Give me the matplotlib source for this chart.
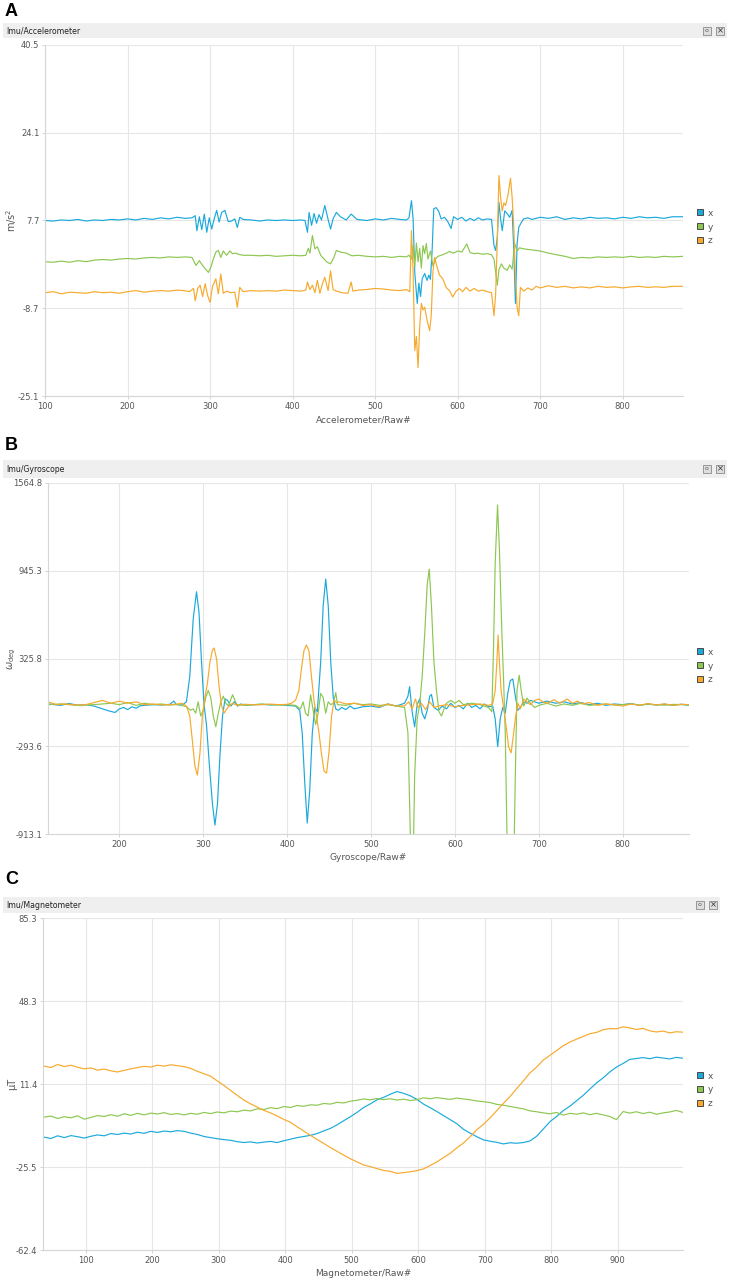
import matplotlib
matplotlib.use("Agg")
import matplotlib.pyplot as plt
from matplotlib.patches import Rectangle, Circle
from matplotlib.lines import Line2D

W, H = 733, 1282

BLUE = '#1ba9dc'
GREEN = '#8cc751'
ORANGE = '#f7a92c'
TXT = '#555555'

# ---------------- Accelerometer ----------------
acc_x_raw = [100, 110, 120, 130, 140, 150, 160, 170, 180, 190, 200, 210, 220, 230, 240, 250, 260, 270, 278,
             282, 284, 287, 290, 293, 296, 299, 302, 305, 308, 311, 314, 318, 322, 326, 330, 333, 336, 340,
             350, 360, 370, 380, 390, 400, 410, 415,
             418, 420, 423, 426, 429, 432, 435, 439, 443, 446, 449, 453, 458, 465, 471, 478, 490, 500, 510,
             520, 530, 538, 541,
             544, 546, 548, 551, 553, 555, 557, 560, 563, 565, 567, 569, 571, 574, 577, 580, 584, 588, 592,
             595, 600, 605, 610, 615, 620, 625, 630, 636, 641, 644, 646, 648, 650, 652, 654, 657, 660, 663,
             666, 668, 670, 672, 674, 677, 680, 685, 690, 700, 710, 720, 730, 740, 750, 760, 770, 780, 790,
             800, 810, 820, 830, 840, 850, 860, 873]
acc_x = [7.7, 7.6, 7.8, 7.7, 7.9, 7.6, 7.8, 7.7, 7.9, 7.8, 8.0, 7.8, 8.1, 7.9, 8.2, 8.0, 8.3, 8.1, 8.2,
         8.6, 5.8, 8.4, 6.0, 8.9, 5.5, 8.2, 6.1, 8.0, 9.6, 7.4, 9.2, 9.6, 7.5, 7.6, 8.0, 6.4, 8.3, 7.9,
         7.8, 7.6, 7.8, 7.7, 7.8, 7.7, 7.8, 7.7,
         5.5, 9.2, 6.8, 9.0, 7.2, 8.8, 7.8, 10.5, 7.9, 6.1, 8.0, 9.2, 8.4, 7.8, 8.9, 7.9, 7.7, 8.0, 7.8,
         8.1, 7.9, 7.8, 8.2,
         11.4, 8.0, -2.0, -7.8, -4.0, -6.5, -3.2, -2.2, -3.5, -2.5, -3.3, 2.0, 9.9, 10.1, 9.4, 8.0, 8.3, 7.5, 6.2,
         8.4, 7.9, 8.3, 7.6, 8.1, 7.7, 8.2, 7.8, 8.0, 7.9, 3.0, 2.1, 4.5, 11.1, 8.0, 5.8, 9.5, 9.0, 8.3,
         9.6, 2.0, -7.8, 3.4, 6.4, 7.3, 8.0, 8.2, 7.9, 8.3, 8.1, 8.4, 7.9, 8.2, 8.0, 8.3, 8.1, 8.2, 8.0,
         8.3, 8.1, 8.4, 8.2, 8.3, 8.1, 8.4, 8.4]

acc_y_raw = [100, 110, 120, 130, 140, 150, 160, 170, 180, 190, 200, 210, 220, 230, 240, 250, 260, 270, 278,
             283, 287, 290, 294, 298, 301, 304, 307, 310, 313, 316, 320, 324, 327, 331, 334, 340,
             350, 360, 370, 380, 390, 400, 410, 416,
             419, 421, 424, 427, 430, 434, 438, 442, 446, 450, 453, 458, 465, 472, 480, 490, 500, 510, 520,
             530, 538, 541,
             544, 546, 548, 550, 552, 554, 556, 558, 560, 562, 564, 567, 570, 573, 576, 580, 585, 590, 595,
             600, 605, 611, 615, 620, 624, 630, 636, 641, 644, 646, 648, 650, 653, 656, 660, 663, 666, 669,
             672, 675, 680, 690, 700, 710, 720, 730, 740, 750, 760, 770, 780, 790, 800, 810, 820, 830, 840,
             850, 860, 873]
acc_y = [0.0, -0.1, 0.1, -0.1, 0.2, 0.0, 0.3, 0.4, 0.3, 0.5, 0.6, 0.5, 0.7, 0.8, 0.7, 0.9, 0.8, 0.9, 0.8,
         -0.7, 0.2, -0.5, -1.3, -2.0, -1.0, 0.5, 1.8, 2.1, 0.8, 2.0, 1.2, 2.0, 1.5, 1.6, 1.4, 1.2,
         1.2, 1.1, 1.2, 1.0, 1.1, 1.2, 1.1, 1.2,
         2.5, 1.6, 4.9, 2.4, 2.8, 1.2, 0.5, -0.1, -0.4, 0.8, 2.1, 1.8, 1.6, 1.1, 1.2, 1.0, 0.9, 1.0, 0.8,
         1.0, 0.9, 1.2,
         0.5, 3.0, -1.0, 3.5, 0.0, 2.5, -1.2, 3.0, 1.5, 3.4, 0.5, 2.0, -0.8, 0.5, 1.0, 1.2, 1.5, 1.9, 1.6,
         2.0, 1.8, 3.3, 1.7, 1.5, 1.6, 1.4, 1.5, 1.3, 0.5, -2.0, -4.4, -1.5, -0.4, -1.2, -1.6, -0.6, -1.4, 3.4,
         2.0, 2.6, 2.4, 2.2, 2.0, 1.6, 1.3, 1.0, 0.6, 0.8, 0.7, 0.9, 0.8, 0.9, 0.8, 1.0, 0.8, 0.9, 0.8,
         1.0, 0.9, 1.0]

acc_z_raw = [100, 110, 120, 130, 140, 150, 160, 170, 180, 190, 200, 210, 220, 230, 240, 250, 260, 268, 275,
             280, 282, 285, 288, 291, 294, 297, 300, 303, 307, 310, 313, 316, 320, 325, 330, 333, 336, 340,
             350, 360, 370, 380, 390, 400, 410, 416,
             418, 421, 424, 427, 430, 433, 436, 439, 443, 446, 449, 453, 460, 467, 471, 473, 480, 490, 500,
             510, 520, 530, 538, 542,
             544, 546, 548, 550, 552, 554, 556, 558, 560, 563, 566, 568, 570, 572, 575, 578, 582, 586, 590,
             594, 598, 602, 606, 610, 615, 620, 625, 630, 636, 641, 644, 646, 648, 650, 652, 654, 656, 658,
             661, 664, 666, 668, 670, 672, 674, 676, 680, 685, 690, 695, 700, 710, 720, 730, 740, 750, 760,
             770, 780, 790, 800, 810, 820, 830, 840, 850, 860, 873]
acc_z = [-5.8, -5.6, -6.0, -5.7, -5.8, -5.9, -5.6, -5.8, -5.7, -5.9, -5.6, -5.4, -5.7, -5.5, -5.4, -5.5, -5.3, -5.4, -5.6,
         -5.0, -7.3, -5.0, -4.4, -6.5, -4.1, -6.3, -7.6, -4.6, -3.2, -6.0, -2.3, -5.9, -5.5, -5.8, -5.7, -8.5, -4.8, -5.6,
         -5.4, -5.5, -5.4, -5.5, -5.3, -5.4, -5.5, -5.3,
         -3.8, -5.2, -4.4, -5.8, -3.5, -5.9, -4.2, -2.9, -5.4, -1.7, -5.2, -5.5, -5.8, -5.9, -3.8, -5.5, -5.3, -5.2, -5.0,
         -5.1, -5.3, -5.4, -5.2, -5.6,
         5.8, -2.0, -16.6, -14.0, -19.8, -12.0, -7.8, -9.0, -8.5, -11.0, -12.9, -10.0, -2.0, 0.8, -1.0, -2.5, -3.2, -4.8, -5.4,
         -6.6, -5.5, -5.0, -5.6, -4.8, -5.5, -5.0, -5.5, -5.3, -5.6, -5.8, -10.1, -6.0, 4.0, 16.1, 12.0, 9.5, 11.0, 10.5,
         12.5, 15.6, 12.0, 6.4, -3.0, -8.5, -10.1, -4.8, -5.5, -4.9, -5.3, -4.6, -4.9, -4.5, -4.8, -4.6, -4.9, -4.7, -4.9,
         -4.6, -4.8, -4.7, -4.9, -4.7, -4.6, -4.8, -4.7, -4.8, -4.6, -4.6]

# ---------------- Gyroscope ----------------
gyr_x_raw = [115, 130, 140, 150, 160, 170, 180, 188, 195, 200, 205, 210, 215, 220, 225, 230, 240, 250, 260, 265,
             268, 275, 280, 284, 288, 292, 295, 298, 301, 304, 307, 311, 314, 317, 320, 323, 326, 329, 333, 337,
             341, 345, 350, 360, 370, 380, 390, 400, 410, 415, 418, 421, 424, 427, 430, 433, 436, 440, 443, 446,
             449, 452, 455, 458, 461, 465, 470, 475, 480, 490, 500, 510, 520, 530, 540, 544, 546, 549, 552, 555,
             558, 561, 564, 567, 570, 572, 575, 580, 585, 590, 595, 600, 605, 610, 615, 620, 625, 630, 635, 640,
             645, 648, 651, 654, 657, 660, 663, 666, 669, 672, 675, 678, 682, 686, 690, 695, 700, 710, 720, 730,
             740, 750, 760, 770, 780, 790, 800, 810, 820, 830, 840, 850, 860, 870, 879]
gyr_x = [5, -5, 8, -3, 0, -10, -30, -45, -55, -30, -20, -35, -15, -25, -8, -5, 0, -3, 2, 25,
         0, -3, 20, 200, 600, 797, 650, 300, 0, -150, -400, -700, -850, -700, -350, -80, 40, 30, -10, 20,
         -10, 5, -5, 0, 2, -2, 0, -5, -10, -40, -200, -550, -836, -600, -200, -20, -50, 300, 700, 887,
         700, 300, 50, -30, -40, -20, -35, -10, -30, -15, -10, -20, 5, -10, 10, 60, 127, -50, -156, 0,
         40, -60, -100, -40, 60, 72, -20, -40, -10, -30, 10, -20, -5, -30, 10, -20, -5, -30, 5, -15,
         -10, -100, -297, -100, -20, -60, 80, 170, 181, 60, -40, -20, 20, 10, 30, 20, 10, 25, 10, 20,
         5, 15, 0, 10, -5, 5, 0, 8, -5, 5, -3, 4, -5, 3, -5]

gyr_y_raw = [115, 130, 150, 170, 190, 200, 210, 220, 230, 240, 250, 260, 270, 280, 285, 288, 291, 294, 297, 300,
             303, 306, 309, 312, 315, 318, 321, 324, 327, 330, 335, 340, 350, 360, 370, 380, 390, 400, 410, 416,
             419, 422, 425, 428, 431, 434, 437, 440, 443, 446, 449, 452, 455, 458, 460, 470, 480, 490, 500, 510,
             520, 530, 540, 544, 546, 548, 550, 552, 555, 558, 561, 564, 567, 569.4, 572, 575, 578, 581, 584, 587,
             590, 595, 600, 605, 610, 620, 630, 640, 644, 646, 648, 650.8, 653, 656, 658, 660, 662, 664, 667, 670,
             672, 674, 676.6, 679, 682, 686, 690, 695, 700, 710, 720, 730, 740, 750, 760, 770, 780, 790, 800, 810,
             820, 830, 840, 850, 860, 870, 879]
gyr_y = [0, 5, -5, 0, 10, 0, 15, -5, 10, 0, 5, -3, 2, -15, -40, -30, -60, 20, -80, -40,
         50, 100, 50, -80, -156, -60, 20, 60, 10, -10, 70, 0, -5, 0, 5, 0, -3, 0, -5, -30,
         20, -60, -80, 70, -40, -140, -60, 80, 50, -60, 20, 0, 10, 85, 0, -5, 10, 0, 5, -5,
         0, -10, -20, -200, -700, -1200, -1200, -500, -100, 0, 200, 500, 850, 957, 700, 300, 100, -50, -80, -30,
         10, 30, 10, 30, 0, 10, 0, -20, -50, 400, 1000, 1410, 1100, 500, 175, -200, -900, -1200, -1200, -1200,
         -500, 100, 208, 100, -10, 47, 10, -20, -5, 10, -10, 5, -5, 10, -5, 0, 5, -3, 0, 5,
         -3, 3, 0, -4, 2, 0, -2]

gyr_z_raw = [115, 125, 135, 150, 160, 170, 180, 190, 200, 210, 220, 230, 240, 250, 260, 270, 275, 280, 284, 287,
             290, 293, 296, 299, 302, 305, 308, 311, 313, 316, 319, 322, 325, 328, 331, 335, 340, 350, 360, 370,
             380, 390, 400, 405, 410, 414, 417, 420, 423, 426, 429, 432, 435, 438, 441, 444, 447, 450, 453, 456,
             459, 462, 470, 480, 490, 500, 510, 520, 530, 540, 545, 549, 553, 556, 560, 565, 570, 575, 580, 590,
             600, 610, 620, 630, 640, 645, 648, 650, 651.5, 653, 655, 658, 661, 664, 667, 670, 672, 675, 678, 682,
             686, 690, 695, 700, 705, 710, 718, 725, 734, 740, 746, 752, 760, 770, 780, 790, 800, 810, 820, 830,
             840, 850, 860, 870, 879]
gyr_z = [20, 0, 5, -3, 0, 15, 30, 10, 25, 10, 20, 0, 5, -2, 0, 5, 10, -10, -80, -250,
         -430, -497, -350, -80, 50, 150, 300, 385, 400, 320, 120, -10, -60, -30, -10, 10, -5, 3, -2, 0,
         4, 0, 2, 10, 30, 100, 250, 380, 421, 380, 200, 30, -80, -200, -350, -470, -483, -330, -80, 30,
         15, 20, 5, 10, -5, 0, -15, 5, -10, -8, 20, -30, 40, -20, 10, -35, 20, -20, -10, 0,
         -15, -5, 0, 5, -5, 5, 100, 300, 491, 300, 100, -20, -150, -300, -340, -200, -100, 10, -30, 40,
         20, 0, 30, 40, 20, 10, 35, 10, 40, 10, 25, 5, 15, -5, 5, 0, -10, 5, -5, 8,
         -2, 5, -5, 3, 0]

# ---------------- Magnetometer ----------------
mag_raw = list(range(38, 1000, 10))
mag_x = [-12.2, -12.8, -11.6, -12.4, -11.5, -12.0, -12.6, -11.8, -11.2, -11.6, -10.6, -11.0, -10.4, -10.8, -10.0, -10.5,
         -9.6, -10.1, -9.5, -9.8, -9.3, -9.6, -10.4, -11.0, -11.9, -12.4, -12.9, -13.3, -13.6, -14.2, -14.6, -14.3,
         -14.8, -14.4, -14.1, -14.6, -13.8, -13.1, -12.4, -11.9, -11.4, -10.6, -9.4, -8.3, -6.7, -4.9, -3.1, -1.2,
         1.0, 2.6, 4.4, 5.5, 6.9, 8.1, 7.3, 6.2, 4.6, 2.5, 0.9, -0.8, -2.6, -4.4, -6.2, -8.7, -10.4, -12.0,
         -13.4, -14.0, -14.5, -15.2, -14.7, -14.9, -14.6, -13.9, -11.8, -8.6, -5.3, -3.0, -0.4, 1.6, 4.0, 6.4,
         9.2, 11.9, 14.2, 16.8, 19.0, 20.6, 22.4, 22.8, 23.2, 22.7, 23.4, 23.0, 22.6, 23.3, 22.9]
mag_y = [-3.3, -2.8, -3.9, -3.1, -3.6, -2.7, -4.2, -3.4, -2.6, -3.0, -2.2, -2.9, -1.8, -2.5, -1.6, -2.3,
         -1.5, -1.9, -1.3, -2.1, -1.7, -2.3, -1.6, -2.0, -1.2, -1.7, -1.0, -1.4, -0.6, -0.9, -0.2, -0.5,
         0.4, 0.1, 0.9, 0.5, 1.4, 1.0, 1.9, 1.5, 2.2, 2.0, 2.8, 2.5, 3.3, 3.0, 3.8, 4.2,
         4.8, 4.4, 5.0, 4.5, 4.9, 4.3, 4.7, 4.1, 4.5, 5.3, 4.9, 5.4, 5.0, 4.6, 5.2, 4.8, 4.4, 3.9,
         3.6, 3.2, 2.4, 2.0, 1.5, 0.9, 0.4, -0.5, -0.9, -1.4, -1.8, -1.2, -2.4, -1.6, -2.0, -1.4,
         -2.2, -1.6, -2.3, -3.0, -4.4, -0.8, -1.5, -0.9, -1.7, -1.1, -2.0, -1.4, -1.0, -0.3, -1.2]
mag_z = [19.4, 18.8, 20.1, 19.2, 19.8, 18.9, 18.2, 18.6, 17.6, 18.1, 17.3, 16.8, 17.5, 18.2, 18.8, 19.3,
         19.0, 19.8, 19.4, 20.0, 19.6, 19.2, 18.4, 17.1, 16.0, 14.9, 12.8, 10.8, 8.6, 6.4, 4.3, 2.6,
         1.2, -0.3, -1.4, -2.8, -4.3, -5.6, -7.6, -9.5, -11.4, -13.2, -15.0, -16.8, -18.5, -20.2, -21.8, -23.2,
         -24.6, -25.3, -26.2, -27.0, -27.4, -28.3, -28.0, -27.6, -27.1, -26.3, -24.8, -23.2, -21.3, -19.4, -17.0, -14.8,
         -12.0, -8.9, -6.5, -3.6, -0.4, 2.8, 5.9, 9.4, 12.8, 16.4, 19.0, 22.1, 24.2, 26.3, 28.5, 30.1,
         31.4, 32.6, 33.8, 34.4, 35.6, 36.1, 36.0, 36.9, 36.4, 35.7, 36.2, 35.1, 34.6, 35.0, 34.2, 34.7, 34.5]

acc_yticks = [-25.1, -8.7, 7.7, 24.1, 40.5]
gyr_yticks = [-913.1, -293.6, 325.8, 945.3, 1564.8]
mag_yticks = [-62.4, -25.5, 11.4, 48.3, 85.3]


def frac(l, t, r, b):
    return [l / W, 1 - b / H, (r - l) / W, (b - t) / H]


def panel(fig, letter, title, box, bar, xlim, xticks, yticks, ylabel, xlabel, series, legend_y):
    l, t, r, b = box
    fig.text(5 / W, 1 - letter / H, letter_map[title], fontsize=13, fontweight='bold',
             family='Liberation Sans', va='center', ha='left')
    # title bar
    bl, bt, br, bb = bar
    fig.patches.append(Rectangle((bl / W, 1 - bb / H), (br - bl) / W, (bb - bt) / H,
                                 transform=fig.transFigure, facecolor='#efefef', edgecolor='none'))
    fig.text((bl + 3) / W, 1 - (bt + bb) / 2 / H, title, fontsize=5.6, color='#222222',
             va='center', ha='left')
    cy = (bt + bb) / 2
    for cx in (br - 20, br - 7):
        fig.patches.append(Rectangle(((cx - 4) / W, 1 - (cy + 4) / H), 8 / W, 8 / H,
                                     transform=fig.transFigure, facecolor='#dedede',
                                     edgecolor='#8a8a8a', lw=0.6))
    fig.text((br - 20) / W, 1 - cy / H, 'o', fontsize=4.5, color='#555555', ha='center', va='center')
    fig.text((br - 7) / W, 1 - cy / H, '×', fontsize=6, color='#333333', ha='center', va='center')

    ax = fig.add_axes(frac(l, t, r, b))
    for xs, ys, c in series:
        ax.plot(xs, ys, color=c, lw=0.85)
    ax.set_xlim(*xlim)
    ax.set_ylim(yticks[0], yticks[-1])
    ax.set_xticks(xticks)
    ax.set_yticks(yticks)
    ax.set_yticklabels([f'{v:.1f}' for v in yticks])
    ax.grid(True, color='#e6e6e6', lw=0.8)
    ax.set_axisbelow(True)
    for s in ('top', 'right'):
        ax.spines[s].set_visible(False)
    for s in ('left', 'bottom'):
        ax.spines[s].set_color('#d6d6d6')
        ax.spines[s].set_linewidth(0.8)
    ax.tick_params(labelsize=6, colors=TXT, length=2, width=0.6, pad=2)
    ax.tick_params(axis='both', color='#cccccc')
    fig.text(12 / W, 1 - (t + b) / 2 / H, ylabel, rotation=90, fontsize=7, color=TXT,
             ha='center', va='center')
    fig.text((l + r) / 2 / W, 1 - (b + 24) / H, xlabel, fontsize=6.5, color=TXT,
             ha='center', va='center')
    handles = [Line2D([], [], ls='none', marker='s', markersize=4.5, markerfacecolor=c,
                      markeredgecolor='#4a4a4a', markeredgewidth=0.7) for c in (BLUE, GREEN, ORANGE)]
    leg = fig.legend(handles, ['x', 'y', 'z'], loc='center left',
                     bbox_to_anchor=(692 / W, 1 - legend_y / H), bbox_transform=fig.transFigure,
                     frameon=False, fontsize=6.5, handlelength=0.8, handletextpad=0.4,
                     labelspacing=0.55, borderpad=0)
    for txt in leg.get_texts():
        txt.set_color(TXT)
    return ax


letter_map = {'Imu/Accelerometer': 'A', 'Imu/Gyroscope': 'B', 'Imu/Magnetometer': 'C'}

fig = plt.figure(figsize=(W / 100, H / 100), dpi=100)

panel(fig, 12, 'Imu/Accelerometer', (45, 45, 683, 396), (3, 23, 727, 38),
      (100, 873), list(range(100, 900, 100)), acc_yticks, 'm/s$^2$', 'Accelerometer/Raw#',
      [(acc_x_raw, acc_x, BLUE), (acc_y_raw, acc_y, GREEN), (acc_z_raw, acc_z, ORANGE)], 227)

panel(fig, 445, 'Imu/Gyroscope', (48, 483, 689, 834), (3, 460, 727, 478),
      (115, 879), list(range(200, 900, 100)), gyr_yticks, r'$\omega_{\rm deg}$', 'Gyroscope/Raw#',
      [(gyr_x_raw, gyr_x, BLUE), (gyr_y_raw, gyr_y, GREEN), (gyr_z_raw, gyr_z, ORANGE)], 666)

panel(fig, 879, 'Imu/Magnetometer', (43, 918, 683, 1250), (3, 897, 720, 913),
      (36, 998), list(range(100, 1000, 100)), mag_yticks, 'µT', 'Magnetometer/Raw#',
      [(mag_raw, mag_x, BLUE), (mag_raw, mag_y, GREEN), (mag_raw, mag_z, ORANGE)], 1090)

fig.savefig('out.png', dpi=100)
